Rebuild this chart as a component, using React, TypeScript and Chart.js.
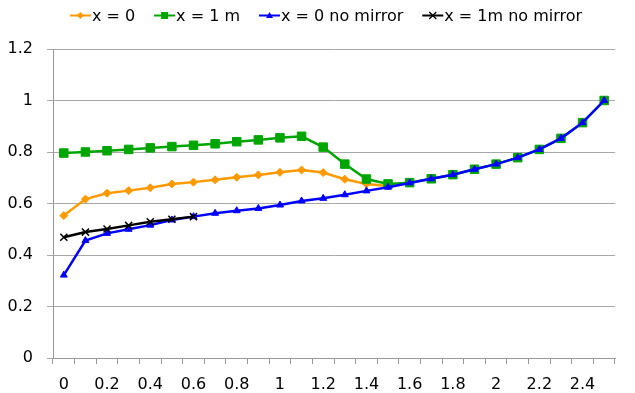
import React, { useEffect, useRef } from 'react';
import { Chart, registerables } from 'chart.js';

Chart.register(...registerables);

const categories = [
  '0', '0.1', '0.2', '0.3', '0.4', '0.5', '0.6', '0.7', '0.8', '0.9',
  '1', '1.1', '1.2', '1.3', '1.4', '1.5', '1.6', '1.7', '1.8', '1.9',
  '2', '2.1', '2.2', '2.3', '2.4', '2.5',
];
const xTickLabels = ['0', '0.2', '0.4', '0.6', '0.8', '1', '1.2', '1.4', '1.6', '1.8', '2', '2.2', '2.4'];
const yTickLabels = ['0', '0.2', '0.4', '0.6', '0.8', '1', '1.2'];

const seriesNames = ['x = 0', 'x = 1 m', 'x = 0 no mirror', 'x = 1m no mirror'];

const x0Values = [
  0.553, 0.617, 0.640, 0.650, 0.661, 0.676, 0.683, 0.692, 0.702, 0.711,
  0.721, 0.730, 0.720, 0.694, 0.676, 0.668, null, null, null, null,
  null, null, null, null, null, null,
];
const x1mValues = [
  0.796, 0.800, 0.805, 0.810, 0.816, 0.821, 0.826, 0.832, 0.840, 0.847,
  0.855, 0.861, 0.819, 0.753, 0.695, 0.676, 0.681, 0.696, 0.712, 0.733,
  0.753, 0.778, 0.810, 0.853, 0.914, 1.000,
];
const x0NoMirrorValues = [
  0.322, 0.456, 0.484, 0.500, 0.516, 0.536, 0.549, 0.562, 0.572, 0.581,
  0.594, 0.610, 0.620, 0.634, 0.649, 0.663, 0.680, 0.696, 0.712, 0.733,
  0.753, 0.778, 0.810, 0.853, 0.914, 1.000,
];
const x1mNoMirrorValues = [
  0.469, 0.489, 0.501, 0.515, 0.529, 0.539, 0.549, null, null, null,
  null, null, null, null, null, null, null, null, null, null,
  null, null, null, null, null, null,
];

const COLORS = ['#ff9900', '#00a600', '#0000ff', '#000000'];
const STYLES = ['rectRot', 'rect', 'triangle', 'crossRot'];
const FONT = '"DejaVu Sans", sans-serif';

function drawMarker(ctx: CanvasRenderingContext2D, style: string, x: number, y: number, r: number, color: string) {
  ctx.save();
  ctx.fillStyle = color;
  ctx.strokeStyle = color;
  ctx.lineWidth = 1.3;
  ctx.beginPath();
  if (style === 'rectRot') {
    ctx.moveTo(x, y - r); ctx.lineTo(x + r, y); ctx.lineTo(x, y + r); ctx.lineTo(x - r, y); ctx.closePath(); ctx.fill();
  } else if (style === 'rect') {
    ctx.rect(x - r, y - r, 2 * r, 2 * r); ctx.fill();
  } else if (style === 'triangle') {
    ctx.moveTo(x, y - r); ctx.lineTo(x + r, y + r * 0.7); ctx.lineTo(x - r, y + r * 0.7); ctx.closePath(); ctx.fill();
  } else {
    ctx.moveTo(x - r, y - r); ctx.lineTo(x + r, y + r); ctx.moveTo(x + r, y - r); ctx.lineTo(x - r, y + r); ctx.stroke();
  }
  ctx.restore();
}

const topLegend = {
  id: 'topLegend',
  afterDraw(chart: any) {
    const ctx: CanvasRenderingContext2D = chart.ctx;
    ctx.save();
    ctx.font = `16px ${FONT}`;
    const symW = 21;
    const gapText = 1;
    const gapItem = 19;
    const widths = seriesNames.map((n) => ctx.measureText(n).width);
    const total = widths.reduce((s, w) => s + symW + gapText + w, 0) + gapItem * (seriesNames.length - 1);
    let x = 326 - total / 2;
    const lineY = 15.5;
    seriesNames.forEach((name, i) => {
      ctx.strokeStyle = COLORS[i];
      ctx.lineWidth = 2;
      ctx.beginPath();
      ctx.moveTo(x, lineY);
      ctx.lineTo(x + symW, lineY);
      ctx.stroke();
      drawMarker(ctx, STYLES[i], x + symW / 2, lineY, 3.5, COLORS[i]);
      ctx.fillStyle = '#000';
      ctx.textBaseline = 'alphabetic';
      ctx.textAlign = 'left';
      ctx.fillText(name, x + symW + gapText, 21);
      x += symW + gapText + widths[i] + gapItem;
    });
    ctx.restore();
  },
};

export default function App() {
  const canvasRef = useRef<HTMLCanvasElement | null>(null);

  useEffect(() => {
    if (!canvasRef.current) return;
    const allValues = [x0Values, x1mValues, x0NoMirrorValues, x1mNoMirrorValues];
    const radii = [4, 6, 4, 5];
    const chart = new Chart(canvasRef.current, {
      type: 'line',
      data: {
        labels: categories,
        datasets: allValues.map((vals, i) => ({
          label: seriesNames[i],
          data: vals,
          borderColor: COLORS[i],
          backgroundColor: COLORS[i],
          borderWidth: 2.5,
          pointStyle: STYLES[i] as any,
          pointRadius: radii[i],
          pointBorderWidth: i === 3 ? 1.5 : 1,
          pointBorderColor: COLORS[i],
          pointBackgroundColor: COLORS[i],
          tension: 0,
          spanGaps: false,
          order: 3 - i,
        })),
      },
      options: {
        responsive: false,
        animation: false,
        layout: { padding: { top: 49, right: 20, left: 0, bottom: 0 } },
        plugins: {
          legend: { display: false },
          tooltip: { enabled: false },
        },
        scales: {
          x: {
            type: 'category',
            offset: true,
            grid: {
              offset: true,
              drawOnChartArea: false,
              drawTicks: true,
              tickLength: 6,
              color: '#999999',
            },
            border: { color: '#999999', width: 1 },
            ticks: {
              autoSkip: false,
              maxRotation: 0,
              padding: 11,
              color: '#000',
              font: { family: FONT, size: 16 },
              callback: (_v: any, index: number) =>
                xTickLabels.includes(categories[index]) ? categories[index] : '',
            },
            afterFit: (axis: any) => {
              axis.height = 35;
            },
          },
          y: {
            min: 0,
            max: 1.2,
            grid: {
              color: '#a8a8a8',
              lineWidth: 1,
              drawTicks: true,
              tickLength: 6,
            },
            border: { color: '#999999', width: 1 },
            ticks: {
              stepSize: 0.2,
              padding: 14,
              color: '#000',
              font: { family: FONT, size: 16 },
              callback: (_v: any, index: number) => yTickLabels[index],
            },
            afterFit: (axis: any) => {
              axis.width = 53;
            },
          },
        },
      },
      plugins: [topLegend],
    });
    return () => chart.destroy();
  }, []);

  return (
    <div style={{ position: 'fixed', left: 0, top: 0, width: 635, height: 393, background: '#fff' }}>
      <canvas ref={canvasRef} width={635} height={393} style={{ display: 'block' }} />
    </div>
  );
}
